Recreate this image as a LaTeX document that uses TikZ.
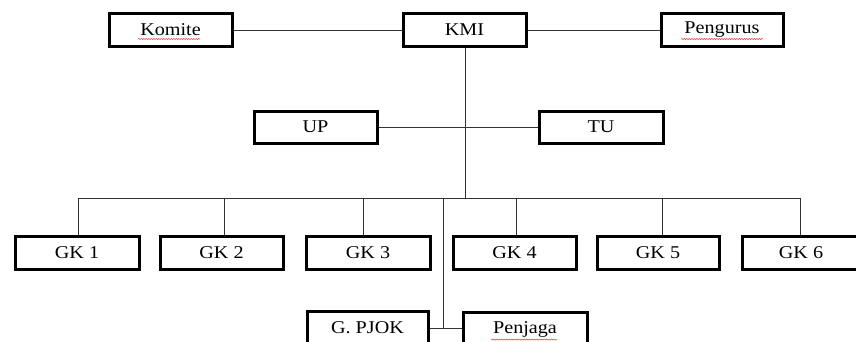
\documentclass[tikz,border=0pt]{standalone}
\usepackage{fontspec}
\setmainfont[FakeStretch=1.12]{Liberation Serif}
\usetikzlibrary{decorations.pathmorphing}
\begin{document}
\begin{tikzpicture}[x=1pt,y=-1pt,
  orgbox/.style={draw=black,line width=3pt,fill=white,rectangle,minimum height=33pt,inner sep=0pt,font=\fontsize{18}{21}\selectfont},
  conn/.style={draw=black!80,line width=1pt},
  squig/.style={draw=red!80,line width=0.5pt,decorate,decoration={snake,amplitude=0.6pt,segment length=2.5pt}}]
\useasboundingbox (0,0) rectangle (856,341);
\clip (0,0) rectangle (856,341);
% nodes
\node[orgbox,minimum width=123pt] (komite) at (170.5,30) {Komite};
\node[orgbox,minimum width=123pt] (kmi) at (464.5,30) {KMI};
\node[orgbox,minimum width=122pt] (pengurus) at (722,30) {Pengurus};
\node[orgbox,minimum width=123pt,minimum height=32pt] (up) at (315.5,127) {UP};
\node[orgbox,minimum width=124pt,minimum height=32pt] (tu) at (601,127) {TU};
\node[orgbox,minimum width=124pt] (gk1) at (77,252.5) {GK 1};
\node[orgbox,minimum width=123pt] (gk2) at (221.5,252.5) {GK 2};
\node[orgbox,minimum width=124pt] (gk3) at (368,252.5) {GK 3};
\node[orgbox,minimum width=123pt] (gk4) at (514.5,252.5) {GK 4};
\node[orgbox,minimum width=122pt] (gk5) at (658,252.5) {GK 5};
\node[orgbox,minimum width=118pt] (gk6) at (801,252.5) {GK 6};
\node[orgbox,minimum width=121pt,minimum height=34pt] (pjok) at (367.5,328) {G. PJOK};
\node[orgbox,minimum width=124pt,minimum height=34pt] (penjaga) at (525,329) {Penjaga};
% coordinates
\coordinate (busL) at (78,198);
\coordinate (busR) at (800,198);
\coordinate (busK) at (465,198);
\coordinate (busP) at (443,198);
\coordinate (pj) at (443,328);
% connectors
\draw[conn] (komite.east) -- (kmi.west);
\draw[conn] (kmi.east) -- (pengurus.west);
\draw[conn] (kmi.south -| busK) -- (busK);
\draw[conn] (up.east) -- (tu.west);
\draw[conn] (busL) -- (busR);
\draw[conn] (gk1.north -| busL) -- (busL);
\draw[conn] (gk2.north) ++(2.5,0) -- (224,198);
\draw[conn] (gk3.north) ++(-5,0) -- (363,198);
\draw[conn] (gk4.north) ++(1.5,0) -- (516,198);
\draw[conn] (gk5.north) ++(4,0) -- (662,198);
\draw[conn] (gk6.north -| busR) -- (busR);
\draw[conn] (busP) -- (pj);
\draw[conn] (pjok.east |- pj) -- (penjaga.west |- pj);
% spell-check marks
\draw[squig] (138,39) -- (200,39);
\draw[squig] (681,39) -- (763,39);
\draw[squig] (491,339.5) -- (557,339.5);
\end{tikzpicture}
\end{document}
